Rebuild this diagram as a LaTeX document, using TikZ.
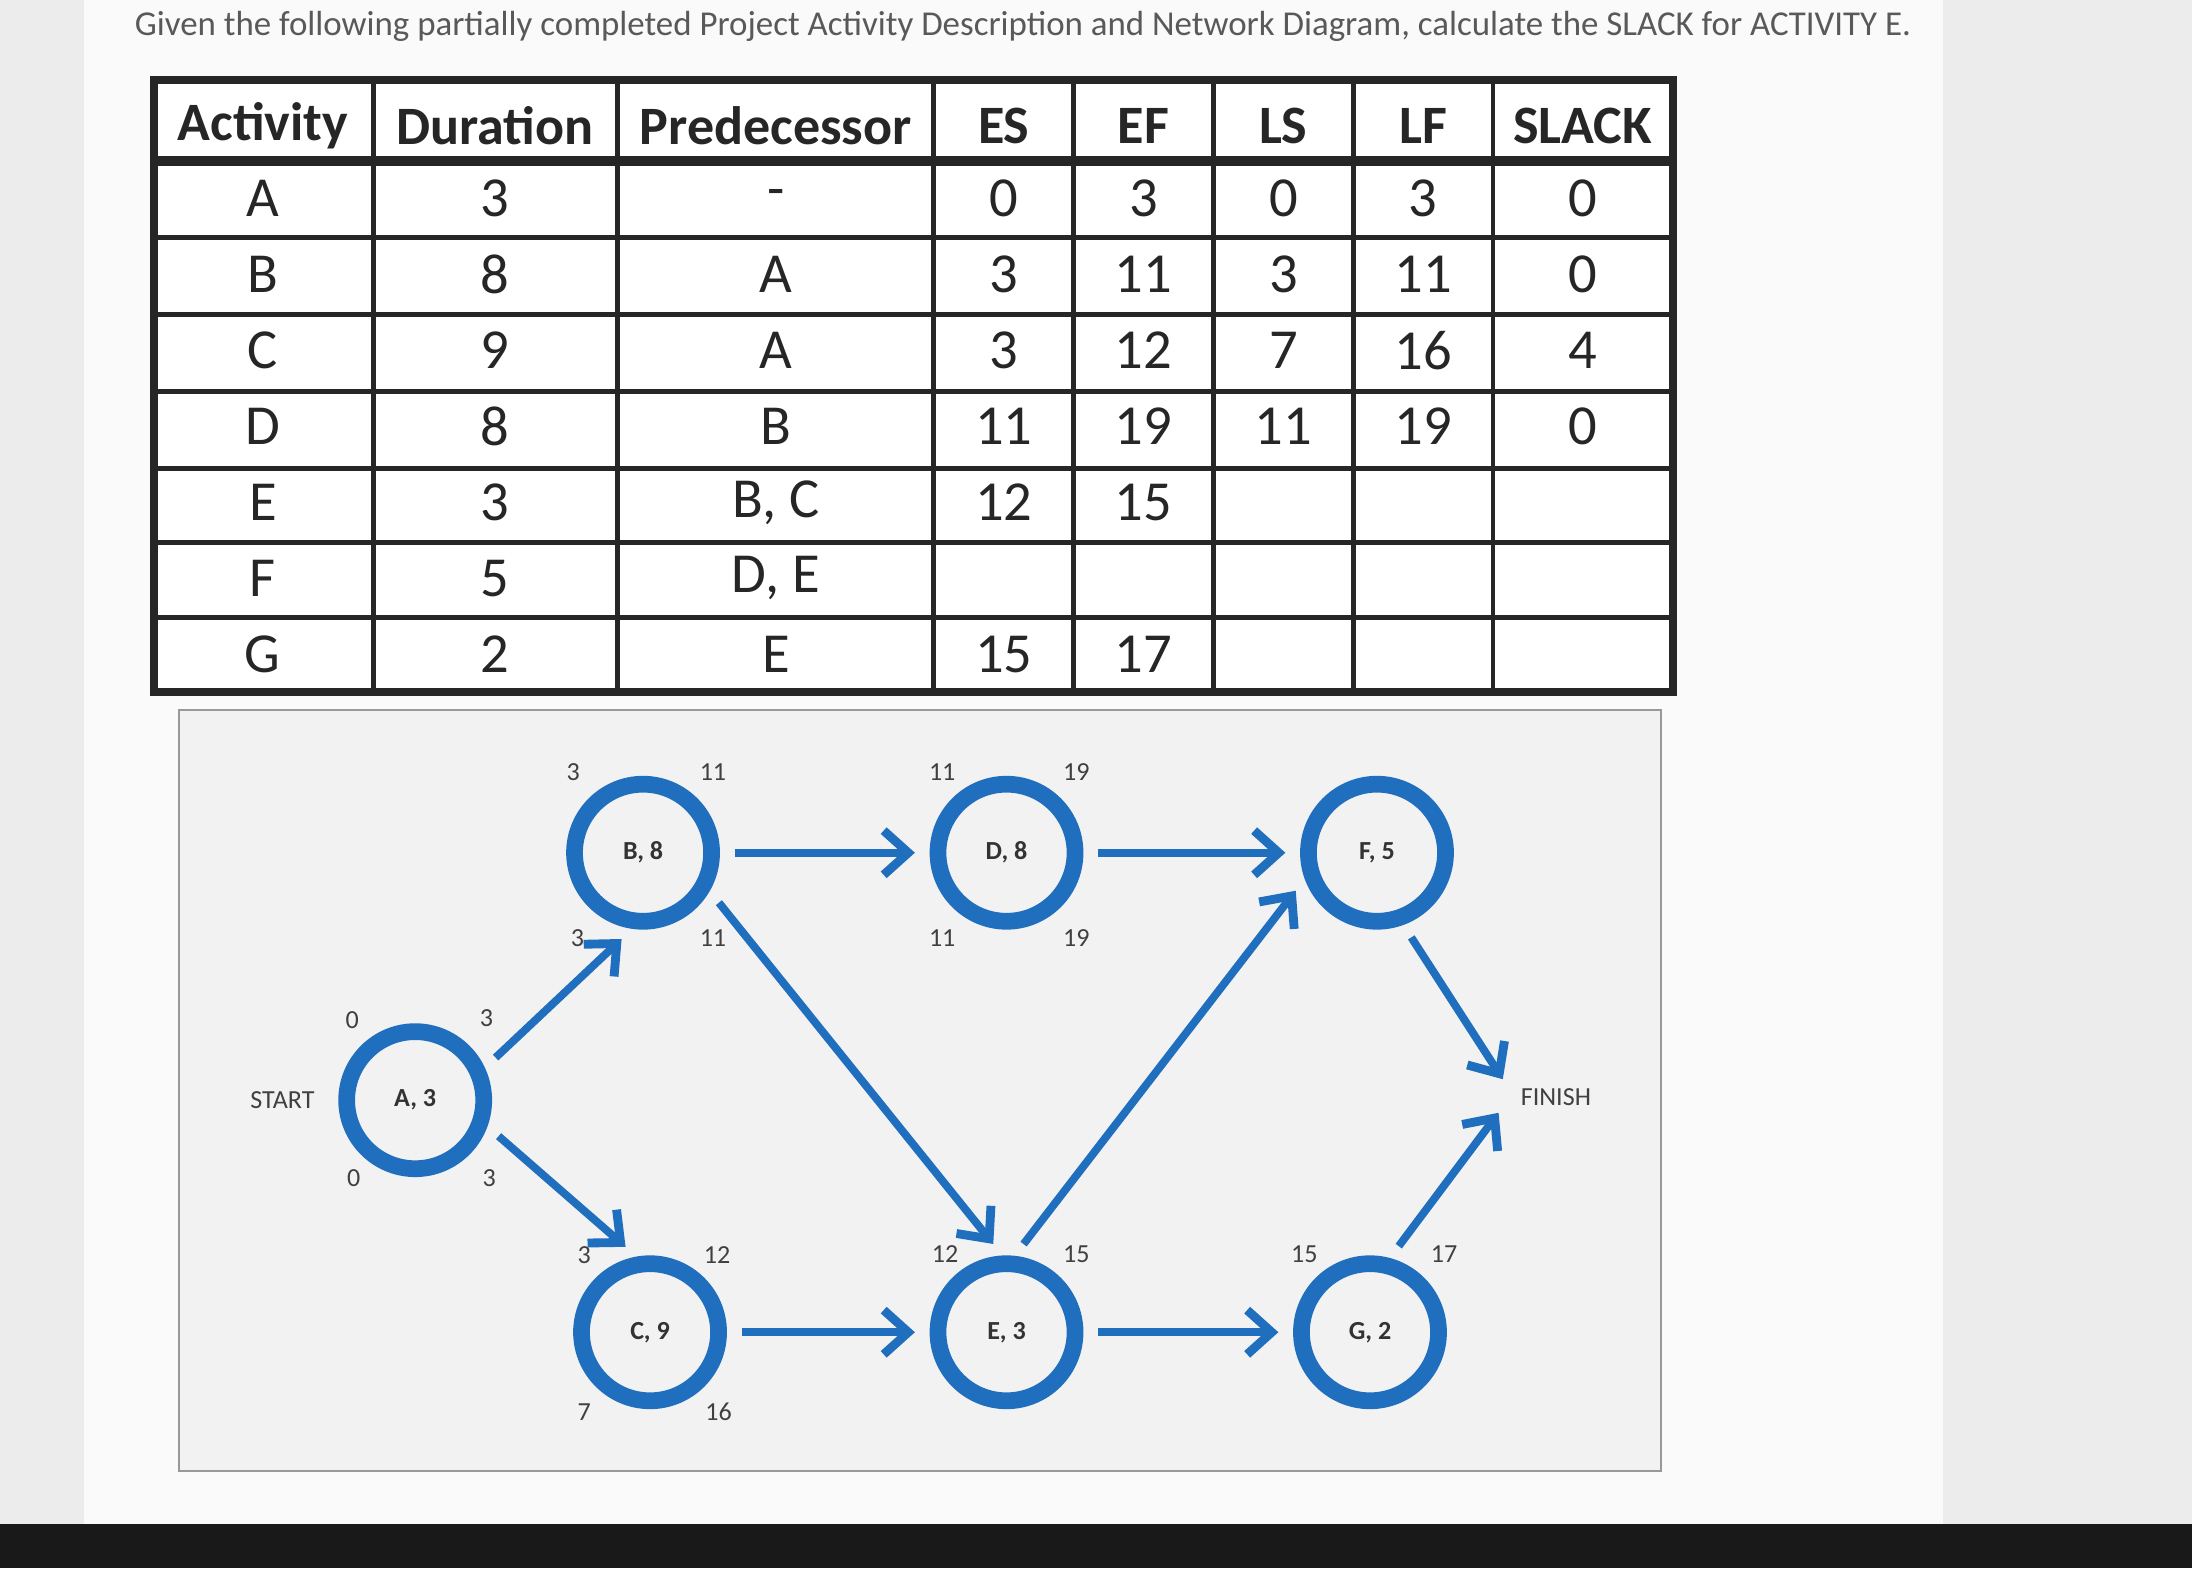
\documentclass[tikz,border=0pt]{standalone}
\usepackage{fontspec}
\setmainfont{Carlito}
\usetikzlibrary{arrows.meta}
\definecolor{nblue}{RGB}{32,110,190}
\definecolor{bg}{RGB}{236,236,236}
\definecolor{scr}{RGB}{250,250,250}
\begin{document}
\begin{tikzpicture}[x=0.01cm,y=-0.01cm,
 cell/.style={font=\fontsize{11.5}{13}\selectfont,text=black!85},
 hcell/.style={font=\fontsize{11}{13}\selectfont\bfseries,text=black!85},
 act/.style={circle,draw=nblue,line width=3.4pt,minimum size=0.98cm,inner sep=0pt,font=\fontsize{5.3}{6}\selectfont\bfseries,text=black!80},
 lab/.style={font=\fontsize{5.3}{6}\selectfont,text=black!75,inner sep=1pt},
 arr/.style={draw=nblue,line width=1.6pt,shorten <=3pt,shorten >=3pt,-{Straight Barb[length=5pt,width=9pt,line width=1.8pt]}}]
\useasboundingbox (0,0) rectangle (1568,1122);
\fill[bg] (0,0) rectangle (1568,1122);
\fill[scr] (60,0) rectangle (1390,1090);
\fill[black!90] (0,1090) rectangle (1568,1122);
\node[anchor=west,font=\fontsize{7.1}{8}\selectfont,text=black!65] (title) at (84,19) {Given the following partially completed Project Activity Description and Network Diagram, calculate the SLACK for ACTIVITY E.};
% table
\fill[white] (110,57) rectangle (1197,495);
\foreach \x in {267,442,668,768,868,968,1068} \draw[line width=1pt,black!85] (\x,57) -- (\x,495);
\foreach \y in {115,170,225,280,335,388,442} \draw[line width=1pt,black!85] (110,\y) -- (1197,\y);
\draw[line width=1.6pt,black!85] (110,57) rectangle (1197,495);
\draw[line width=2pt,black!85] (110,115) -- (1197,115);
\def\cx{{188,354,555,718,818,918,1018,1132}}
\foreach \h [count=\i from 0] in {Activity,Duration,Predecessor,ES,EF,LS,LF,SLACK}
 \node[hcell] (h\i) at ({\cx[\i]},90) {\h};
\foreach \row [count=\r from 1] in {{A,3,-,0,3,0,3,0},{B,8,A,3,11,3,11,0},{C,9,A,3,12,7,16,4},{D,8,B,11,19,11,19,0},{E,3,{B, C},12,15,,,},{F,5,{D, E},,,,,},{G,2,E,15,17,,,}}{
 \foreach \v [count=\c from 0] in \row
  \node[cell] (t\r-\c) at ({\cx[\c]},{115+(\r-0.5)*54.3}) {\v};
}
% diagram frame
\draw[black!40,fill=bg!70] (128,508) rectangle (1188,1052);
\node[act] (A) at (297,787) {A, 3};
\node[act] (B) at (460,610) {B, 8};
\node[act] (C) at (465,953) {C, 9};
\node[act] (D) at (720,610) {D, 8};
\node[act] (E) at (720,953) {E, 3};
\node[act] (F) at (985,610) {F, 5};
\node[act] (G) at (980,953) {G, 2};
\node[lab] (start) at (202,787) {START};
\node[lab] (finish) at (1113,785) {FINISH};
\coordinate (fin) at (1075,772);
\coordinate (fin2) at (1072,796);
\draw[arr] (A.25) -- (B.262);
\draw[arr] (A.-20) -- (C.100);
\draw[arr] (B) -- (D);
\draw[arr] (B.-30) -- (E.93);
\draw[arr] (C) -- (E);
\draw[arr] (E.84) -- (F.200);
\draw[arr] (D) -- (F);
\draw[arr] (E) -- (G);
\draw[arr,shorten >=0pt] (F.-70) -- (fin);
\draw[arr,shorten >=0pt] (G.75) -- (fin2);
% labels
\foreach \n/\x/\y/\t in {a1/252/730/0,a2/348/728/3,a3/253/843/0,a4/350/843/3,
 b1/410/552/3,b2/510/552/11,b3/413/671/3,b4/510/671/11,
 c1/418/898/3,c2/513/898/12,c3/418/1010/7,c4/514/1010/16,
 d1/674/552/11,d2/770/552/19,d3/674/671/11,d4/770/671/19,
 e1/676/897/12,e2/770/897/15,g1/933/897/15,g2/1033/897/17}
 \node[lab] (\n) at (\x,\y) {\t};
\end{tikzpicture}
\end{document}
